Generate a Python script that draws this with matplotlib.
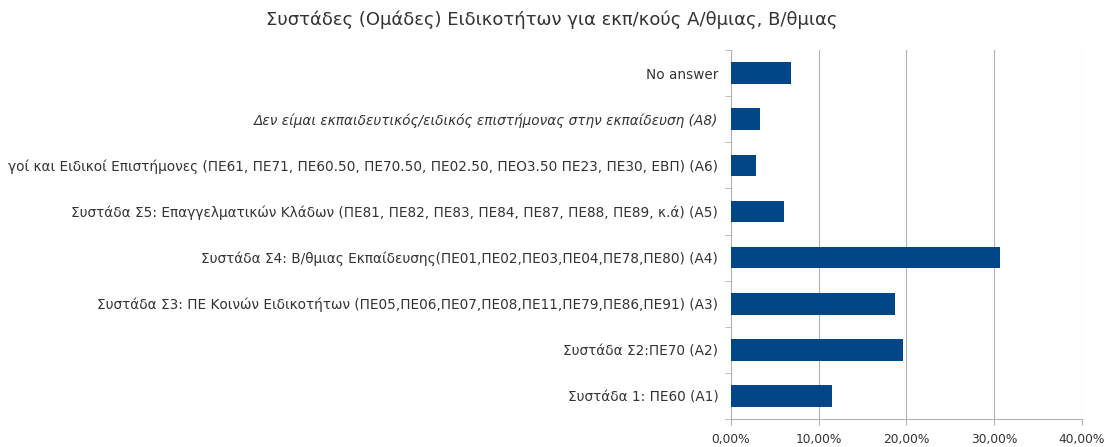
import matplotlib
matplotlib.use("Agg")
import matplotlib.pyplot as plt
from matplotlib.ticker import FuncFormatter, FixedLocator

plt.rcParams['font.family'] = ['DejaVu Sans']

title = "Συστάδες (Ομάδες) Ειδικοτήτων για εκπ/κούς Α/θμιας, Β/θμιας"
categories = [
    "Συστάδα 1: ΠΕ60 (Α1)",
    "Συστάδα Σ2:ΠΕ70 (Α2)",
    "Συστάδα Σ3: ΠΕ Κοινών Ειδικοτήτων (ΠΕ05,ΠΕ06,ΠΕ07,ΠΕ08,ΠΕ11,ΠΕ79,ΠΕ86,ΠΕ91) (Α3)",
    "Συστάδα Σ4: Β/θμιας Εκπαίδευσης(ΠΕ01,ΠΕ02,ΠΕ03,ΠΕ04,ΠΕ78,ΠΕ80) (Α4)",
    "Συστάδα Σ5: Επαγγελματικών Κλάδων (ΠΕ81, ΠΕ82, ΠΕ83, ΠΕ84, ΠΕ87, ΠΕ88, ΠΕ89, κ.ά) (Α5)",
    "γοί και Ειδικοί Επιστήμονες (ΠΕ61, ΠΕ71, ΠΕ60.50, ΠΕ70.50, ΠΕ02.50, ΠΕΟ3.50 ΠΕ23, ΠΕ30, ΕΒΠ) (Α6)",
    "Δεν είμαι εκπαιδευτικός/ειδικός επιστήμονας στην εκπαίδευση (Α8)",
    "No answer",
]
values = [11.5, 19.6, 18.7, 30.7, 6.1, 2.85, 3.35, 6.8]
xticks = [0, 10, 20, 30, 40]

fig = plt.figure(figsize=(11.04, 4.47), dpi=100)
ax = fig.add_axes([0.662, 0.0626, 0.318, 0.8254])

ypos = list(range(len(categories)))
ax.barh(ypos, values, height=0.47, color='#004586', zorder=3)

ax.set_xlim(0, 40)
ax.set_ylim(-0.5, len(categories) - 0.5)
ax.xaxis.set_major_locator(FixedLocator(xticks))
ax.xaxis.set_major_formatter(FuncFormatter(lambda v, p: f"{v:.2f}%".replace('.', ',')))
ax.grid(axis='x', color='#b3b3b3', linewidth=0.8, zorder=0)

ax.set_yticks(ypos)
ax.set_yticklabels(categories)
for lbl in ax.get_yticklabels():
    lbl.set_fontsize(9.8)
    lbl.set_color('#333333')
    if lbl.get_text().startswith("Δεν"):
        lbl.set_style('italic')
ax.set_yticks([y - 0.5 for y in ypos] + [len(categories) - 0.5], minor=True)
ax.tick_params(axis='y', which='major', length=0, pad=9)
ax.tick_params(axis='y', which='minor', length=4, color='#b3b3b3')
ax.tick_params(axis='x', labelsize=8.8, labelcolor='#333333', length=4, color='#b3b3b3', pad=6)

for s in ['top', 'right']:
    ax.spines[s].set_visible(False)
for s in ['left', 'bottom']:
    ax.spines[s].set_color('#b3b3b3')
    ax.spines[s].set_linewidth(0.8)

fig.text(0.5, 0.955, title, ha='center', va='center', fontsize=13, color='#333333')

fig.savefig("out.png", dpi=100, facecolor='white')
